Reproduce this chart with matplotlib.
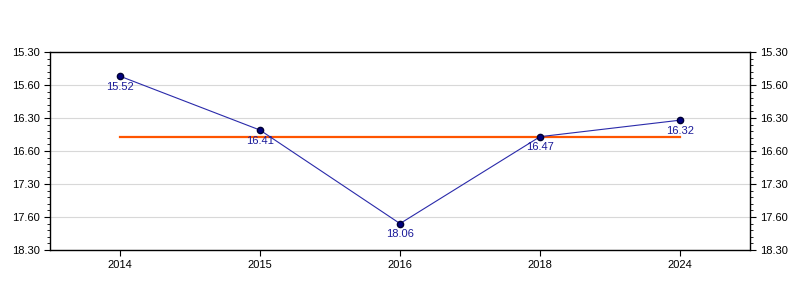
import matplotlib

matplotlib.use("Agg")
import matplotlib.pyplot as plt
from matplotlib.ticker import FixedLocator, MultipleLocator

plt.rcParams["font.family"] = ["Liberation Sans", "DejaVu Sans"]
plt.rcParams["font.size"] = 8

# Times as written (minutes.seconds)
years = ["2014", "2015", "2016", "2018", "2024"]
times = ["15.52", "16.41", "18.06", "16.47", "16.32"]
tick_labels = ["15.30", "15.60", "16.30", "16.60", "17.30", "17.60", "18.30"]
tick_values = [15.5, 16.0, 16.5, 17.0, 17.5, 18.0, 18.5]


def to_minutes(s: str) -> float:
    m, sec = s.split(".")
    return int(m) + int(sec) / 60.0


values = [to_minutes(t) for t in times]
average = sum(values) / len(values)
xs = list(range(len(years)))

fig = plt.figure(figsize=(8, 3), dpi=100)
ax = fig.add_axes([0.0625, 0.1667, 0.875, 0.66])

ax.grid(True, axis="y", color="#d8d8d8", linewidth=0.8)
ax.set_axisbelow(True)

ax.plot([xs[0], xs[-1]], [average, average], color="#ff5500", linewidth=1.6, zorder=2)
ax.plot(xs, values, color="#2a2aaa", linewidth=0.8, zorder=3)
ax.plot(xs, values, "o", color="#000080", markeredgecolor="#000033",
        markersize=4.5, zorder=4, linestyle="none")

for x, v, label in zip(xs, values, times):
    ax.annotate(label, (x, v), xytext=(0, -7.5), textcoords="offset points",
                ha="center", va="center", color="#1a1a99", fontsize=8)

ax.set_xlim(-0.5, len(years) - 0.5)
ax.set_ylim(18.5, 15.5)
ax.set_xticks(xs)
ax.set_xticklabels(years)
ax.yaxis.set_major_locator(FixedLocator(tick_values))
ax.set_yticklabels(tick_labels)
ax.yaxis.set_minor_locator(MultipleLocator(0.1))
ax.tick_params(axis="y", which="both", left=True, right=True,
               labelleft=True, labelright=True, direction="out")
ax.tick_params(axis="y", which="major", length=4)
ax.tick_params(axis="y", which="minor", length=2)
ax.tick_params(axis="x", length=4)

for spine in ax.spines.values():
    spine.set_linewidth(1.0)

fig.savefig("out.png", dpi=100)
plt.close(fig)
